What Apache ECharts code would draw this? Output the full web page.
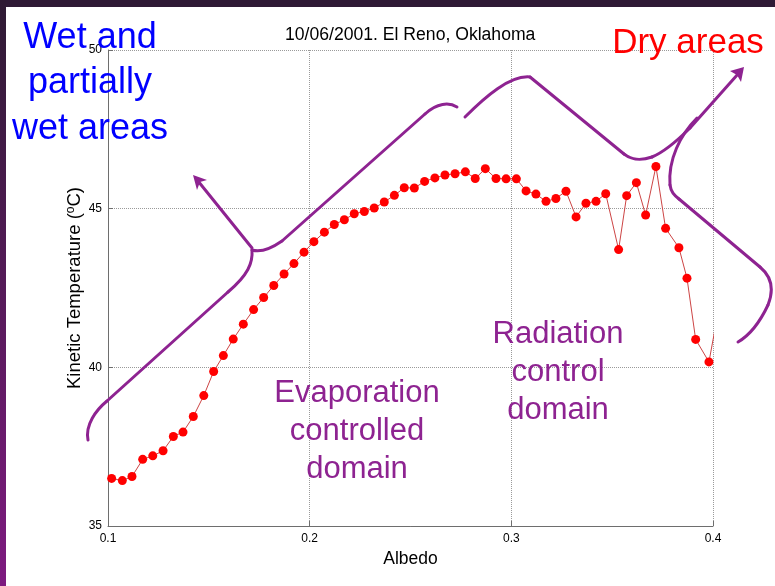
<!DOCTYPE html>
<html>
<head>
<meta charset="utf-8">
<script src="https://cdn.jsdelivr.net/npm/echarts@6/dist/echarts.min.js"></script>
<style>
	html,body{margin:0;padding:0;background:#fff;}
	#chart{width:775px;height:586px;}
</style>
</head>
<body>
<div id="chart"></div>
<script>
	// albedo (x) and kinetic temperature (y)
	var albedo = [0.1018,0.1071,0.1119,0.1172,0.1222,0.1273,0.1324,0.1372,0.1423,0.1475,
		0.1524,0.1572,0.1621,0.1671,0.1722,0.1772,0.1822,0.1873,0.1922,0.1972,
		0.2021,0.2073,0.2122,0.2172,0.2221,0.2271,0.2320,0.2370,0.2420,0.2469,
		0.2519,0.2570,0.2621,0.2671,0.2721,0.2772,0.2821,0.2871,0.2924,0.2974,
		0.3025,0.3073,0.3122,0.3172,0.3221,0.3271,0.3321,0.3370,0.3420,0.3468,
		0.3532,0.3572,0.3620,0.3666,0.3717,0.3765,0.3831,0.3871,0.3914,0.3980,
		0.4030];
	var temperature = [36.50,36.43,36.56,37.10,37.21,37.37,37.82,37.96,38.45,39.11,
		39.87,40.37,40.89,41.36,41.82,42.20,42.58,42.94,43.27,43.63,
		43.96,44.26,44.50,44.65,44.84,44.91,45.02,45.21,45.42,45.66,
		45.65,45.86,45.97,46.06,46.10,46.16,45.95,46.26,45.95,45.94,
		45.94,45.56,45.46,45.23,45.32,45.55,44.74,45.17,45.23,45.47,
		43.71,45.41,45.82,44.80,46.33,44.38,43.77,42.81,40.88,40.17,
		41.90];
	var xTicks = ['0.1','0.2','0.3','0.4'];
	var yTicks = ['35','40','45','50'];

	var font = '"Liberation Sans", Arial, sans-serif';
	var purple = '#8e2391';

	var points = [];
	for (var i = 0; i < albedo.length; i++) {
		points.push([albedo[i], temperature[i]]);
	}

	var myChart = echarts.init(document.getElementById('chart'));

	// purple hand-drawn brackets and arrows (M / L / C only)
	var strokes = [
		'M 88 440 C 85 425 96 410 107 401 L 228 292 C 248 275 253 263 252 250',
		'M 252 250 C 262 253 272 248 282 241 L 425 114 C 437 103 449 102 457 107',
		'M 252 248 L 198 181',
		'M 465 117 C 485 97 510 75 530 77 L 624 154 C 632 160 640 161 652 157 C 664 152 678 140 690 128 L 738 74',
		'M 697 118 C 680 135 668 160 670 185 C 671 192 674 195 679 199 L 760 267 C 772 277 774 290 768 305 C 760 322 750 335 738 342'
	];
	var graphics = [
		{type:'rect', shape:{x:0, y:0, width:775, height:7}, style:{fill:'#2f1a35'}, z:200},
		{type:'rect', shape:{x:0, y:0, width:6, height:586}, z:200,
			style:{fill:{type:'linear', x:0, y:0, x2:0, y2:1,
				colorStops:[{offset:0, color:'#2e1a33'},{offset:1, color:'#7e1a80'}]}}}
	];
	var strokeStyle = {stroke:purple, lineWidth:3, lineCap:'round', fill:null};
	strokes.forEach(function(d){
		var t = d.split(' ');
		var cx = 0, cy = 0, k = 0;
		while (k < t.length) {
			var c = t[k];
			if (c === 'M') {
				cx = +t[k+1]; cy = +t[k+2]; k += 3;
			} else if (c === 'L') {
				graphics.push({type:'line', z:100, style:strokeStyle,
					shape:{x1:cx, y1:cy, x2:+t[k+1], y2:+t[k+2]}});
				cx = +t[k+1]; cy = +t[k+2]; k += 3;
			} else if (c === 'C') {
				graphics.push({type:'bezierCurve', z:100, style:strokeStyle,
					shape:{x1:cx, y1:cy, cpx1:+t[k+1], cpy1:+t[k+2], cpx2:+t[k+3], cpy2:+t[k+4], x2:+t[k+5], y2:+t[k+6]}});
				cx = +t[k+5]; cy = +t[k+6]; k += 7;
			} else {
				k++;
			}
		}
	});
	graphics.push({type:'polygon', z:100, shape:{points:[[193,175],[207,180],[200,182],[197,190]]}, style:{fill:purple}});
	graphics.push({type:'polygon', z:100, shape:{points:[[744,67],[730,71],[737,75],[741,82]]}, style:{fill:purple}});

	function label(text, x, y, size, lh, color){
		graphics.push({type:'text', z:110, x:x, y:y,
			style:{text:text, fill:color, font:size + 'px ' + font, align:'center', verticalAlign:'top', lineHeight:lh}});
	}
	label('Wet and\npartially\nwet areas', 90, 15, 36, 45.5, '#0000ff');
	label('Dry areas', 688, 22, 35, 43, '#ff0000');
	label('Evaporation\ncontrolled\ndomain', 357, 374, 31, 38, purple);
	label('Radiation\ncontrol\ndomain', 558, 315, 31, 38, purple);

	myChart.setOption({
		backgroundColor:'#fff',
		animation:false,
		title:{
			text:'10/06/2001. El Reno, Oklahoma',
			left:285, top:26, padding:0,
			textStyle:{fontFamily:font, fontSize:17.6, fontWeight:'normal', color:'#000'}
		},
		grid:{left:108, right:62, top:50, bottom:60},
		xAxis:{
			type:'value', min:0.1, max:0.4, interval:0.1,
			name:'Albedo', nameLocation:'middle', nameGap:22,
			nameTextStyle:{fontFamily:font, fontSize:17.5, color:'#000'},
			axisLine:{lineStyle:{color:'#6e6e6e'}},
			axisTick:{inside:true, length:5, lineStyle:{color:'#6e6e6e'}},
			axisLabel:{fontFamily:font, fontSize:12, color:'#000', margin:7,
				formatter:function(v){ return xTicks[Math.round((v - 0.1) * 10)]; }},
			splitLine:{show:true, lineStyle:{color:'#9a9a9a', type:'dotted'}}
		},
		yAxis:{
			type:'value', min:35, max:50, interval:5,
			name:'Kinetic Temperature ({sup|o}C)', nameLocation:'middle', nameGap:24,
			nameMoveOverlap:false,
			nameTextStyle:{fontFamily:font, fontSize:18.5, color:'#000',
				rich:{sup:{fontFamily:font, fontSize:12, verticalAlign:'top', color:'#000'}}},
			axisLine:{show:true, lineStyle:{color:'#6e6e6e'}},
			axisTick:{show:true, inside:true, length:5, lineStyle:{color:'#6e6e6e'}},
			axisLabel:{fontFamily:font, fontSize:12, color:'#000', margin:6,
				formatter:function(v){ return yTicks[Math.round((v - 35) / 5)]; }},
			splitLine:{show:true, lineStyle:{color:'#9a9a9a', type:'dotted'}}
		},
		series:[{
			type:'line',
			data:points,
			symbol:'circle',
			symbolSize:9,
			clip:true,
			lineStyle:{color:'#cc4444', width:1},
			itemStyle:{color:'#ff0000'}
		}],
		graphic:graphics
	});
</script>
</body>
</html>
